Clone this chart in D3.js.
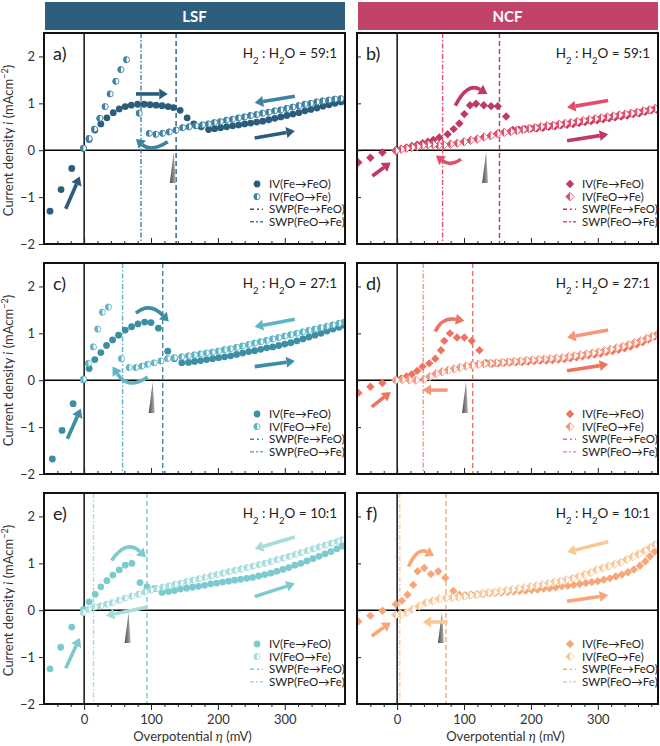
<!DOCTYPE html>
<html><head><meta charset="utf-8">
<script src="https://cdn.jsdelivr.net/npm/d3@7"></script>
<style>
body{margin:0;background:#fff;}
svg text{font-family:Lato,sans-serif;}
</style></head><body>
<script>
// axis ticks
const xMajor = [0, 100, 200, 300];
const xMinor = [-40, -20, 20, 40, 60, 80, 120, 140, 160, 180, 220, 240, 260, 280, 320, 340, 360, 380];
const yTicks = [-2, -1, 0, 1, 2];
const headers = ["LSF", "NCF"];
const ratios = ["59:1", "59:1", "27:1", "27:1", "10:1", "10:1"];

// [overpotential mV, current density mA/cm2]
const aFwd = [[-51,-1.3],[-34.5,-0.84],[-18.5,-0.39],[-1,0.04],[7.5,0.23],[16,0.43],[25,0.56],[34,0.69],[43.5,0.8],[52.5,0.88],[61.5,0.93],[70.5,0.96],[80,0.98],[89.5,0.98],[98.5,0.97],[107.5,0.96],[116.5,0.95],[125.5,0.93],[133.5,0.91],[143.5,0.85],[154,0.69],[164,0.56],[175,0.5],[186,0.44],[195,0.46],[204,0.48],[213,0.5],[222,0.52],[231,0.54],[240,0.56],[249,0.58],[258,0.6],[267,0.62],[276,0.65],[285,0.68],[294,0.71],[303,0.74],[312,0.77],[321,0.8],[330,0.84],[339,0.87],[348,0.9],[357,0.94],[366,0.97],[375,1.0],[384,1.03]];
const aRev = [[384,1.1],[375,1.09],[366,1.07],[357,1.05],[348,1.03],[339,1.0],[330,0.98],[321,0.95],[312,0.92],[303,0.89],[294,0.86],[285,0.84],[276,0.81],[267,0.79],[258,0.76],[249,0.74],[240,0.71],[231,0.69],[222,0.66],[213,0.64],[204,0.61],[195,0.59],[186,0.56],[177,0.54],[167,0.52],[157,0.5],[147.5,0.48],[137.5,0.43],[127.5,0.39],[117.5,0.36],[107.5,0.34],[97.5,0.36],[82.5,0.79],[63.5,1.93],[55,1.72],[47.5,1.47],[39,1.2],[31.5,0.93],[23.5,0.68],[15.5,0.45],[7.5,0.25],[-1,0.04]];
const bFwd = [[-58,-0.26],[-40,-0.16],[-22,-0.05],[-2,0.0],[6,0.03],[14,0.06],[22,0.09],[30,0.12],[38,0.15],[46,0.18],[54,0.22],[63,0.27],[75.5,0.34],[84.5,0.45],[93,0.57],[100.5,0.77],[109,0.96],[118,0.99],[129.5,0.96],[140.5,0.94],[150.5,0.94],[163,0.72],[173,0.43],[182,0.44],[191,0.45],[200,0.46],[209,0.47],[218,0.48],[227,0.5],[236,0.51],[245,0.53],[254,0.54],[263,0.56],[272,0.58],[281,0.6],[290,0.62],[299,0.64],[308,0.66],[317,0.68],[326,0.7],[335,0.72],[344,0.74],[353,0.77],[362,0.79],[371,0.82],[380,0.85],[388,0.87]];
const bRev = [[386,0.89],[377,0.86],[368,0.84],[359,0.81],[350,0.79],[341,0.77],[332,0.75],[323,0.73],[314,0.71],[305,0.69],[296,0.67],[287,0.65],[278,0.63],[269,0.61],[260,0.59],[251,0.57],[242,0.55],[233,0.53],[224,0.52],[215,0.5],[206,0.48],[197,0.46],[188,0.44],[179,0.42],[170,0.4],[160,0.38],[150,0.35],[140,0.31],[130,0.28],[120,0.24],[110,0.21],[100,0.18],[90,0.15],[80,0.13],[70,0.11],[62,0.1],[54,0.12],[46,0.12],[38,0.1],[30,0.08],[22,0.06],[14,0.04],[6,0.02],[-2,-0.01]];
const cFwd = [[-47.5,-1.68],[-33,-1.07],[-16.5,-0.5],[-1,0.01],[7.5,0.25],[16,0.44],[25,0.59],[33.5,0.74],[42.5,0.86],[51.5,0.96],[61.5,1.07],[71,1.14],[80.5,1.2],[90.5,1.24],[100,1.23],[111,1.11],[125,0.62],[135,0.46],[146,0.37],[156,0.38],[165,0.4],[174,0.42],[183,0.44],[192,0.46],[201,0.48],[210,0.5],[219,0.52],[228,0.55],[237,0.58],[246,0.61],[255,0.63],[264,0.66],[273,0.69],[282,0.71],[291,0.74],[300,0.77],[309,0.8],[318,0.84],[327,0.88],[336,0.92],[345,0.96],[354,1.0],[363,1.05],[372,1.09],[381,1.13],[389,1.17]];
const cRev = [[389,1.24],[381,1.21],[372,1.18],[363,1.15],[354,1.12],[345,1.09],[336,1.06],[327,1.03],[318,1.0],[309,0.97],[300,0.94],[291,0.91],[282,0.88],[273,0.85],[264,0.82],[255,0.79],[246,0.76],[237,0.73],[228,0.7],[219,0.67],[210,0.65],[201,0.62],[192,0.6],[183,0.58],[174,0.56],[165,0.54],[156,0.52],[146,0.5],[135,0.48],[125,0.46],[115,0.41],[105,0.37],[95,0.34],[86.5,0.3],[77.5,0.27],[67.5,0.27],[56,0.46],[36.5,1.56],[27.5,1.45],[20.5,1.09],[14,0.71],[6.5,0.36],[-1,0.02]];
const dFwd = [[-58,-0.27],[-40,-0.14],[-22,-0.06],[-2,0.0],[6,0.04],[14,0.08],[22,0.13],[30,0.2],[38,0.29],[48,0.36],[57,0.46],[65.5,0.64],[70.5,0.84],[79,1.0],[89.5,0.91],[100.5,0.91],[111.5,0.84],[123,0.64],[133,0.37],[142,0.35],[151,0.36],[160,0.37],[169,0.38],[178,0.38],[187,0.39],[196,0.4],[205,0.41],[214,0.42],[223,0.42],[232,0.43],[241,0.44],[250,0.45],[259,0.47],[268,0.49],[277,0.51],[286,0.53],[295,0.55],[304,0.57],[313,0.6],[322,0.62],[331,0.65],[340,0.68],[349,0.72],[358,0.76],[367,0.81],[376,0.87],[385,0.93]];
const dRev = [[388,0.97],[381,0.93],[373,0.89],[364,0.84],[355,0.8],[346,0.76],[337,0.72],[328,0.69],[319,0.66],[310,0.63],[301,0.6],[292,0.58],[283,0.56],[274,0.54],[265,0.52],[256,0.5],[247,0.48],[238,0.47],[229,0.46],[220,0.45],[211,0.44],[202,0.43],[193,0.42],[184,0.41],[175,0.4],[166,0.39],[157,0.38],[148,0.37],[139,0.36],[130,0.35],[121,0.34],[112,0.32],[103,0.3],[94,0.27],[85,0.24],[76,0.21],[67,0.18],[58,0.14],[49,0.08],[40,0.02],[28,0.0],[18,0.01],[8,0.01],[-2,0.0]];
const eFwd = [[-51,-1.25],[-35,-0.79],[-18.5,-0.36],[-1,0.02],[7.5,0.18],[16.5,0.34],[25,0.5],[34,0.63],[43,0.75],[52.5,0.86],[61.5,0.96],[71.5,1.0],[83.5,0.59],[94,0.5],[105,0.46],[116.5,0.38],[126,0.4],[135,0.42],[144,0.45],[153,0.47],[162,0.49],[171,0.51],[180,0.53],[189,0.56],[198,0.58],[207,0.6],[216,0.62],[225,0.64],[234,0.66],[243,0.68],[252,0.7],[261,0.73],[270,0.76],[279,0.79],[288,0.83],[297,0.87],[306,0.91],[315,0.96],[324,1.0],[333,1.05],[342,1.1],[351,1.15],[360,1.2],[369,1.25],[378,1.31],[386,1.37]];
const eRev = [[386,1.5],[379,1.47],[370,1.43],[361,1.39],[352,1.35],[343,1.31],[334,1.27],[325,1.23],[316,1.19],[307,1.15],[298,1.11],[289,1.08],[280,1.04],[271,1.0],[262,0.97],[253,0.94],[244,0.91],[235,0.88],[226,0.85],[217,0.82],[208,0.79],[199,0.76],[190,0.73],[181,0.7],[172,0.67],[163,0.64],[154,0.61],[145,0.58],[136,0.55],[127,0.52],[118,0.49],[109,0.46],[100,0.43],[91,0.39],[81.5,0.34],[71.5,0.3],[61.5,0.26],[52.5,0.21],[42.5,0.16],[34,0.13],[25,0.09],[16,0.07],[7,0.02],[-1,-0.05]];
const fFwd = [[-58,-0.24],[-40,-0.12],[-22,-0.01],[-2,0.13],[7,0.2],[15.5,0.33],[24,0.54],[30.5,0.83],[40.5,0.9],[50.5,0.77],[61.5,0.83],[72,0.69],[84,0.41],[93,0.33],[102,0.32],[111,0.33],[120,0.34],[129,0.35],[138,0.36],[147,0.37],[156,0.38],[165,0.39],[174,0.4],[183,0.41],[192,0.42],[201,0.43],[210,0.44],[219,0.46],[228,0.47],[237,0.49],[246,0.51],[255,0.52],[264,0.54],[273,0.56],[282,0.58],[291,0.6],[300,0.62],[309,0.65],[318,0.68],[327,0.72],[336,0.76],[345,0.81],[354,0.87],[363,0.95],[371,1.04],[378,1.15],[385,1.25]];
const fRev = [[385,1.39],[378,1.33],[370,1.27],[361,1.2],[352,1.14],[343,1.08],[334,1.02],[325,0.98],[316,0.94],[307,0.9],[298,0.86],[289,0.8],[280,0.76],[271,0.72],[262,0.68],[253,0.65],[244,0.62],[235,0.6],[226,0.57],[217,0.54],[208,0.52],[199,0.5],[190,0.48],[181,0.46],[172,0.44],[163,0.42],[154,0.4],[145,0.38],[136,0.37],[127,0.35],[118,0.33],[109,0.32],[100,0.3],[91,0.28],[82,0.27],[73,0.26],[63,0.24],[53,0.2],[43,0.16],[33,0.09],[23,0.02],[14,-0.05],[5.5,-0.09],[-2,-0.1]];

// SWP positions [Fe->FeO, FeO->Fe] (mV)
const swpA = [137.5, 85], swpB = [153, 68], swpC = [117.5, 57.5];
const swpD = [113, 39], swpE = [94, 14], swpF = [73, 4];
// grey wedge position (mV)
const wedge = [134, 133, 102.5, 103, 66.5, 67];

// arrows: [direction, points in data coords (start, [control], end)]
const aArrows = [["fwd",[[77.5,1.2],[125,1.2]]],["rev",[[125,0.18],[100,-0.05],[77.5,0.24]]],["rev",[[315,1.15],[255,1.01]]],["fwd",[[255,0.26],[315,0.41]]],["fwd",[[-27.5,-1.25],[-6.5,-0.56]]]];
const bArrows = [["fwd",[[87,0.95],[105,1.46],[135,1.2]]],["rev",[[95.5,-0.19],[79,-0.35],[58,-0.11]]],["rev",[[315.5,1.06],[254,0.91]]],["fwd",[[254,0.2],[315.5,0.34]]],["fwd",[[-37,-0.55],[-9.5,-0.26]]]];
const cArrows = [["fwd",[[77.5,1.43],[98,1.68],[126.5,1.25]]],["rev",[[95,0.07],[66,-0.22],[42.5,0.29]]],["rev",[[315,1.3],[255,1.14]]],["fwd",[[255,0.29],[315,0.41]]],["fwd",[[-25,-1.25],[-5,-0.61]]]];
const dArrows = [["fwd",[[57,1.04],[67,1.35],[100.5,1.27]]],["rev",[[75.5,-0.21],[38,-0.21]]],["rev",[[315.5,1.07],[254,0.91]]],["fwd",[[254,0.2],[315.5,0.34]]],["fwd",[[-38,-0.57],[-9.5,-0.25]]]];
const eArrows = [["fwd",[[41,1.06],[63,1.52],[92.5,1.13]]],["rev",[[95,0.07],[32.5,-0.12]]],["rev",[[315,1.56],[255,1.31]]],["fwd",[[255,0.29],[315,0.57]]],["fwd",[[-27.5,-1.24],[-6.5,-0.59]]]];
const fArrows = [["fwd",[[17,0.93],[30,1.35],[55.5,1.16]]],["rev",[[75.5,-0.25],[38,-0.25]]],["rev",[[315.5,1.46],[254,1.24]]],["fwd",[[254,0.19],[315.5,0.32]]],["fwd",[[-38,-0.55],[-9.5,-0.26]]]];

const legendLabels = ["IV(Fe\u2192FeO)", "IV(FeO\u2192Fe)", "SWP(Fe\u2192FeO)", "SWP(FeO\u2192Fe)"];

const panels = [
  {key:"a", col:0, row:0, fwd:aFwd, rev:aRev, swp:swpA, arrows:aArrows, c1:"#2b5c7b", c2:"#3e82a0", shape:"circle"},
  {key:"b", col:1, row:0, fwd:bFwd, rev:bRev, swp:swpB, arrows:bArrows, c1:"#bf3962", c2:"#e0506b", shape:"diamond"},
  {key:"c", col:0, row:1, fwd:cFwd, rev:cRev, swp:swpC, arrows:cArrows, c1:"#3c8ea3", c2:"#5fb4c5", shape:"circle"},
  {key:"d", col:1, row:1, fwd:dFwd, rev:dRev, swp:swpD, arrows:dArrows, c1:"#ee7462", c2:"#f4977d", shape:"diamond"},
  {key:"e", col:0, row:2, fwd:eFwd, rev:eRev, swp:swpE, arrows:eArrows, c1:"#7ccacd", c2:"#a6dcdc", shape:"circle"},
  {key:"f", col:1, row:2, fwd:fFwd, rev:fRev, swp:swpF, arrows:fArrows, c1:"#f6a677", c2:"#f9c89a", shape:"diamond"}
];

const W = 660, H = 746;
const colX = [44, 357], rowY = [33, 263, 493], pw = 301, ph = 211;
const svg = d3.select("body").append("svg").attr("width", W).attr("height", H);

const defs = svg.append("defs");
const grad = defs.append("linearGradient").attr("id", "wedgeGrad");
grad.append("stop").attr("offset", "0%").attr("stop-color", "#4a4a4a");
grad.append("stop").attr("offset", "100%").attr("stop-color", "#b5b5b5");

// header bars
const headColors = ["#2e5e7d", "#c2436a"];
headers.forEach((h, k) => {
  svg.append("rect").attr("x", colX[k] + 1).attr("y", 2).attr("width", pw - 1).attr("height", 28).attr("fill", headColors[k]);
  svg.append("text").attr("x", colX[k] + pw / 2).attr("y", 21.5).attr("text-anchor", "middle")
    .attr("fill", "#fff").attr("font-weight", "bold").attr("font-size", 15).text(h);
});

function marker(g, shape, cx, cy, color, half) {
  const r = shape == "circle" ? 3.4 : 4.2;
  if (shape == "circle") {
    if (!half) { g.append("circle").attr("cx", cx).attr("cy", cy).attr("r", r).attr("fill", color); return; }
    g.append("circle").attr("cx", cx).attr("cy", cy).attr("r", r - 0.4).attr("fill", "#fff").attr("stroke", color).attr("stroke-width", 0.9);
    g.append("path").attr("d", `M${cx},${cy - r}A${r},${r} 0 0 0 ${cx},${cy + r}Z`).attr("fill", color);
  } else {
    const dpath = `M${cx},${cy - r}L${cx + r},${cy}L${cx},${cy + r}L${cx - r},${cy}Z`;
    if (!half) { g.append("path").attr("d", dpath).attr("fill", color); return; }
    g.append("path").attr("d", dpath).attr("fill", "#fff").attr("stroke", color).attr("stroke-width", 0.9);
    g.append("path").attr("d", `M${cx},${cy - r}L${cx - r},${cy}L${cx},${cy + r}Z`).attr("fill", color);
  }
}

panels.forEach((p, idx) => {
  const x0 = colX[p.col], y0 = rowY[p.row];
  const x = d3.scaleLinear().domain([-60, 390]).range([x0, x0 + pw]);
  const y = d3.scaleLinear().domain([-2, 2.5]).range([y0 + ph, y0]);

  defs.append("clipPath").attr("id", "clip-" + p.key)
    .append("rect").attr("x", x0).attr("y", y0).attr("width", pw).attr("height", ph);
  const g = svg.append("g").attr("clip-path", `url(#clip-${p.key})`);

  // zero lines
  g.append("line").attr("x1", x0).attr("x2", x0 + pw).attr("y1", y(0)).attr("y2", y(0)).attr("stroke", "#000").attr("stroke-width", 1.6);
  g.append("line").attr("x1", x(0)).attr("x2", x(0)).attr("y1", y0).attr("y2", y0 + ph).attr("stroke", "#000").attr("stroke-width", 1.4);

  // SWP lines
  g.append("line").attr("x1", x(p.swp[0])).attr("x2", x(p.swp[0])).attr("y1", y0).attr("y2", y0 + ph)
    .attr("stroke", p.c1).attr("stroke-width", 1.4).attr("stroke-dasharray", "5,3");
  g.append("line").attr("x1", x(p.swp[1])).attr("x2", x(p.swp[1])).attr("y1", y0).attr("y2", y0 + ph)
    .attr("stroke", p.c2).attr("stroke-width", 1.4).attr("stroke-dasharray", "5,2,1.5,2");

  // grey wedge
  const wx = x(wedge[idx]);
  g.append("path").attr("d", `M${wx},${y(-0.04)}L${wx - 4},${y(-0.7)}L${wx + 2},${y(-0.7)}Z`).attr("fill", "url(#wedgeGrad)");

  // arrows
  p.arrows.forEach(([dir, pts]) => {
    const col = dir == "fwd" ? p.c1 : p.c2;
    const P = pts.map(d => [x(d[0]), y(d[1])]);
    const end = P[P.length - 1], prev = P[P.length - 2];
    const ang = Math.atan2(end[1] - prev[1], end[0] - prev[0]);
    const hl = 8.5, hw = 5.5;
    const back = [end[0] - hl * Math.cos(ang), end[1] - hl * Math.sin(ang)];
    const d = P.length == 3 ? `M${P[0]}Q${P[1]} ${back}` : `M${P[0]}L${back}`;
    g.append("path").attr("d", d).attr("fill", "none").attr("stroke", col).attr("stroke-width", 3.6);
    const nx = -Math.sin(ang), ny = Math.cos(ang);
    g.append("path").attr("d", `M${end}L${back[0] + nx * hw},${back[1] + ny * hw}L${back[0] - nx * hw},${back[1] - ny * hw}Z`).attr("fill", col);
  });

  // data
  p.fwd.forEach(d => marker(g, p.shape, x(d[0]), y(d[1]), p.c1, false));
  p.rev.forEach(d => marker(g, p.shape, x(d[0]), y(d[1]), p.c2, true));

  // frame
  svg.append("rect").attr("x", x0).attr("y", y0).attr("width", pw).attr("height", ph)
    .attr("fill", "none").attr("stroke", "#111").attr("stroke-width", 2);

  // axes
  const bottom = p.row == 2, left = p.col == 0;
  const ay = svg.append("g").attr("transform", `translate(${x0},0)`)
    .call(d3.axisLeft(y).tickValues(yTicks).tickSize(left ? 5 : -4).tickPadding(4)
      .tickFormat(left ? (v => v < 0 ? "\u2212" + (-v) : v) : ""));
  const ax = svg.append("g").attr("transform", `translate(0,${y0 + ph})`)
    .call(d3.axisBottom(x).tickValues(xMajor).tickSize(bottom ? 6 : -6).tickPadding(5)
      .tickFormat(bottom ? d3.format("d") : ""));
  const axm = svg.append("g").attr("transform", `translate(0,${y0 + ph})`)
    .call(d3.axisBottom(x).tickValues(xMinor).tickSize(bottom ? 3 : -3).tickFormat(""));
  [ay, ax, axm].forEach(a => {
    a.select(".domain").remove();
    a.selectAll(".tick line").attr("stroke", "#222").attr("stroke-width", 1);
    a.selectAll(".tick text").attr("font-size", 13).attr("fill", "#333").attr("font-family", "Lato,sans-serif");
  });

  // panel letter and gas ratio
  svg.append("text").attr("x", x0 + 9).attr("y", y0 + 27).attr("font-size", 18).attr("fill", "#222").text(p.key + ")");
  const t = svg.append("text").attr("x", x0 + pw - 8).attr("y", y0 + 25).attr("text-anchor", "end")
    .attr("font-size", 13.5).attr("fill", "#222");
  t.append("tspan").text("H");
  t.append("tspan").attr("baseline-shift", "sub").attr("font-size", 9.5).text("2");
  t.append("tspan").text(" : H");
  t.append("tspan").attr("baseline-shift", "sub").attr("font-size", 9.5).text("2");
  t.append("tspan").text("O = " + ratios[idx]);

  // legend
  const lx = x0 + 213, ly = y0 + 151, step = 12.6;
  legendLabels.forEach((lab, k) => {
    const yy = ly + k * step;
    if (k < 2) marker(svg, p.shape, lx, yy, k == 0 ? p.c1 : p.c2, k == 1);
    else svg.append("line").attr("x1", lx - 7).attr("x2", lx + 6).attr("y1", yy).attr("y2", yy)
      .attr("stroke", k == 2 ? p.c1 : p.c2).attr("stroke-width", 1.6)
      .attr("stroke-dasharray", k == 2 ? "4,3,2,3" : "4,2,2,2");
    svg.append("text").attr("x", lx + 12).attr("y", yy + 4).attr("font-size", 11.5).attr("fill", "#222").text(lab);
  });

  // axis titles
  if (left) {
    const cy = y0 + ph / 2 + 2;
    const yt = svg.append("text").attr("transform", `translate(13,${cy}) rotate(-90)`).attr("text-anchor", "middle")
      .attr("font-size", 13).attr("fill", "#333");
    yt.append("tspan").text("Current density ");
    yt.append("tspan").attr("font-style", "italic").text("i");
    yt.append("tspan").text(" (mAcm");
    yt.append("tspan").attr("baseline-shift", "super").attr("font-size", 9).text("\u22122");
    yt.append("tspan").text(")");
  }
  if (bottom) {
    const xt = svg.append("text").attr("x", x0 + pw / 2 - 2).attr("y", y0 + ph + 37).attr("text-anchor", "middle")
      .attr("font-size", 13).attr("fill", "#333");
    xt.append("tspan").text("Overpotential ");
    xt.append("tspan").attr("font-style", "italic").text("\u03b7");
    xt.append("tspan").text(" (mV)");
  }
});
</script>
</body></html>
